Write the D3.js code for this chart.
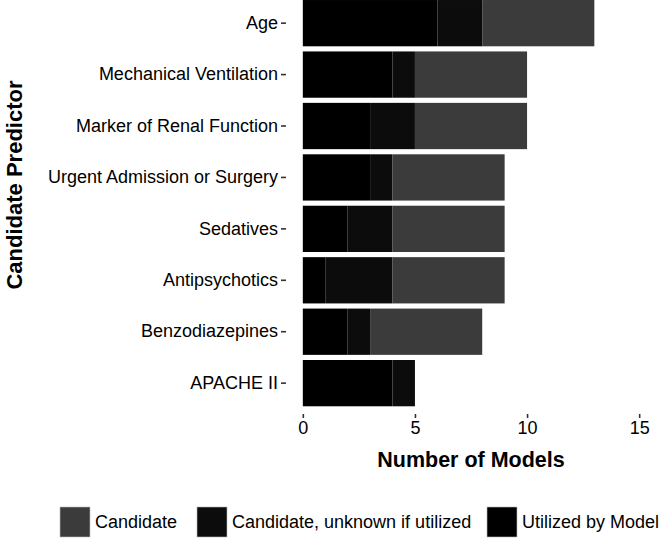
<!DOCTYPE html>
<html><head><meta charset="utf-8">
<script src="https://cdn.jsdelivr.net/npm/d3@7"></script>
<style>body{margin:0;background:#fff}svg{display:block}text{font-family:"Liberation Sans",Arial,sans-serif}</style>
</head><body>
<svg id="c" width="666" height="538"></svg>
<script>
const categories = ["Age","Mechanical Ventilation","Marker of Renal Function","Urgent Admission or Surgery","Sedatives","Antipsychotics","Benzodiazepines","APACHE II"];
const utilized = [6,4,3,3,2,1,2,4];
const unknown  = [2,1,2,1,2,3,1,1];
const candidate= [5,5,5,5,5,5,5,0];
const seriesNames = ["Utilized by Model","Candidate, unknown if utilized","Candidate"];
const seriesColors = ["#000000","#0c0c0c","#3b3b3b"];
const xTicks = [0,5,10,15];
const legendOrder = [2,1,0];

const svg = d3.select("#c");
const L = 286, R = 656, T = -7.7, B = 414;
const x = d3.scaleLinear().domain([-0.75,15.75]).range([L,R]);
const y = d3.scaleBand().domain(categories).range([T,B]).paddingInner(0.1).paddingOuter(0.15);

const data = categories.map((c,i)=>({cat:c, "Utilized by Model":utilized[i], "Candidate, unknown if utilized":unknown[i], "Candidate":candidate[i]}));
const stack = d3.stack().keys(seriesNames)(data);
const color = d3.scaleOrdinal().domain(seriesNames).range(seriesColors);

svg.append("g").selectAll("g").data(stack).join("g").attr("fill",d=>color(d.key))
  .selectAll("rect").data(d=>d).join("rect")
  .attr("x",d=>x(d[0])).attr("width",d=>x(d[1])-x(d[0]))
  .attr("y",d=>y(d.data.cat)).attr("height",y.bandwidth());

// y axis
const ya = svg.append("g").attr("transform",`translate(${L},0)`)
  .call(d3.axisLeft(y).tickSize(5).tickPadding(3));
ya.select(".domain").remove();
ya.selectAll("line").attr("stroke","#333").attr("stroke-width",1.6);
ya.selectAll("text").attr("font-size",18).attr("fill","#000");

// x axis
const xa = svg.append("g").attr("transform",`translate(0,${B})`)
  .call(d3.axisBottom(x).tickValues(xTicks).tickSize(4).tickPadding(3));
xa.select(".domain").remove();
xa.selectAll("line").attr("stroke","#333").attr("stroke-width",1.6);
xa.selectAll("text").attr("font-size",18).attr("fill","#000");

svg.append("text").attr("x",(L+R)/2).attr("y",467).attr("text-anchor","middle")
  .attr("font-size",21.5).attr("font-weight","bold").text("Number of Models");
svg.append("text").attr("transform",`translate(22,185) rotate(-90)`).attr("text-anchor","middle")
  .attr("font-size",22).attr("font-weight","bold").text("Candidate Predictor");

// legend
const legX = [60,197,487];
const lg = svg.append("g");
legendOrder.forEach((si,k)=>{
  lg.append("rect").attr("x",legX[k]).attr("y",507).attr("width",30).attr("height",30)
    .attr("fill",seriesColors[si]).attr("stroke","#bbb").attr("stroke-width",0.6);
  lg.append("text").attr("x",legX[k]+35).attr("y",528).attr("font-size",18).attr("fill","#000").text(seriesNames[si]);
});
</script>
</body></html>
